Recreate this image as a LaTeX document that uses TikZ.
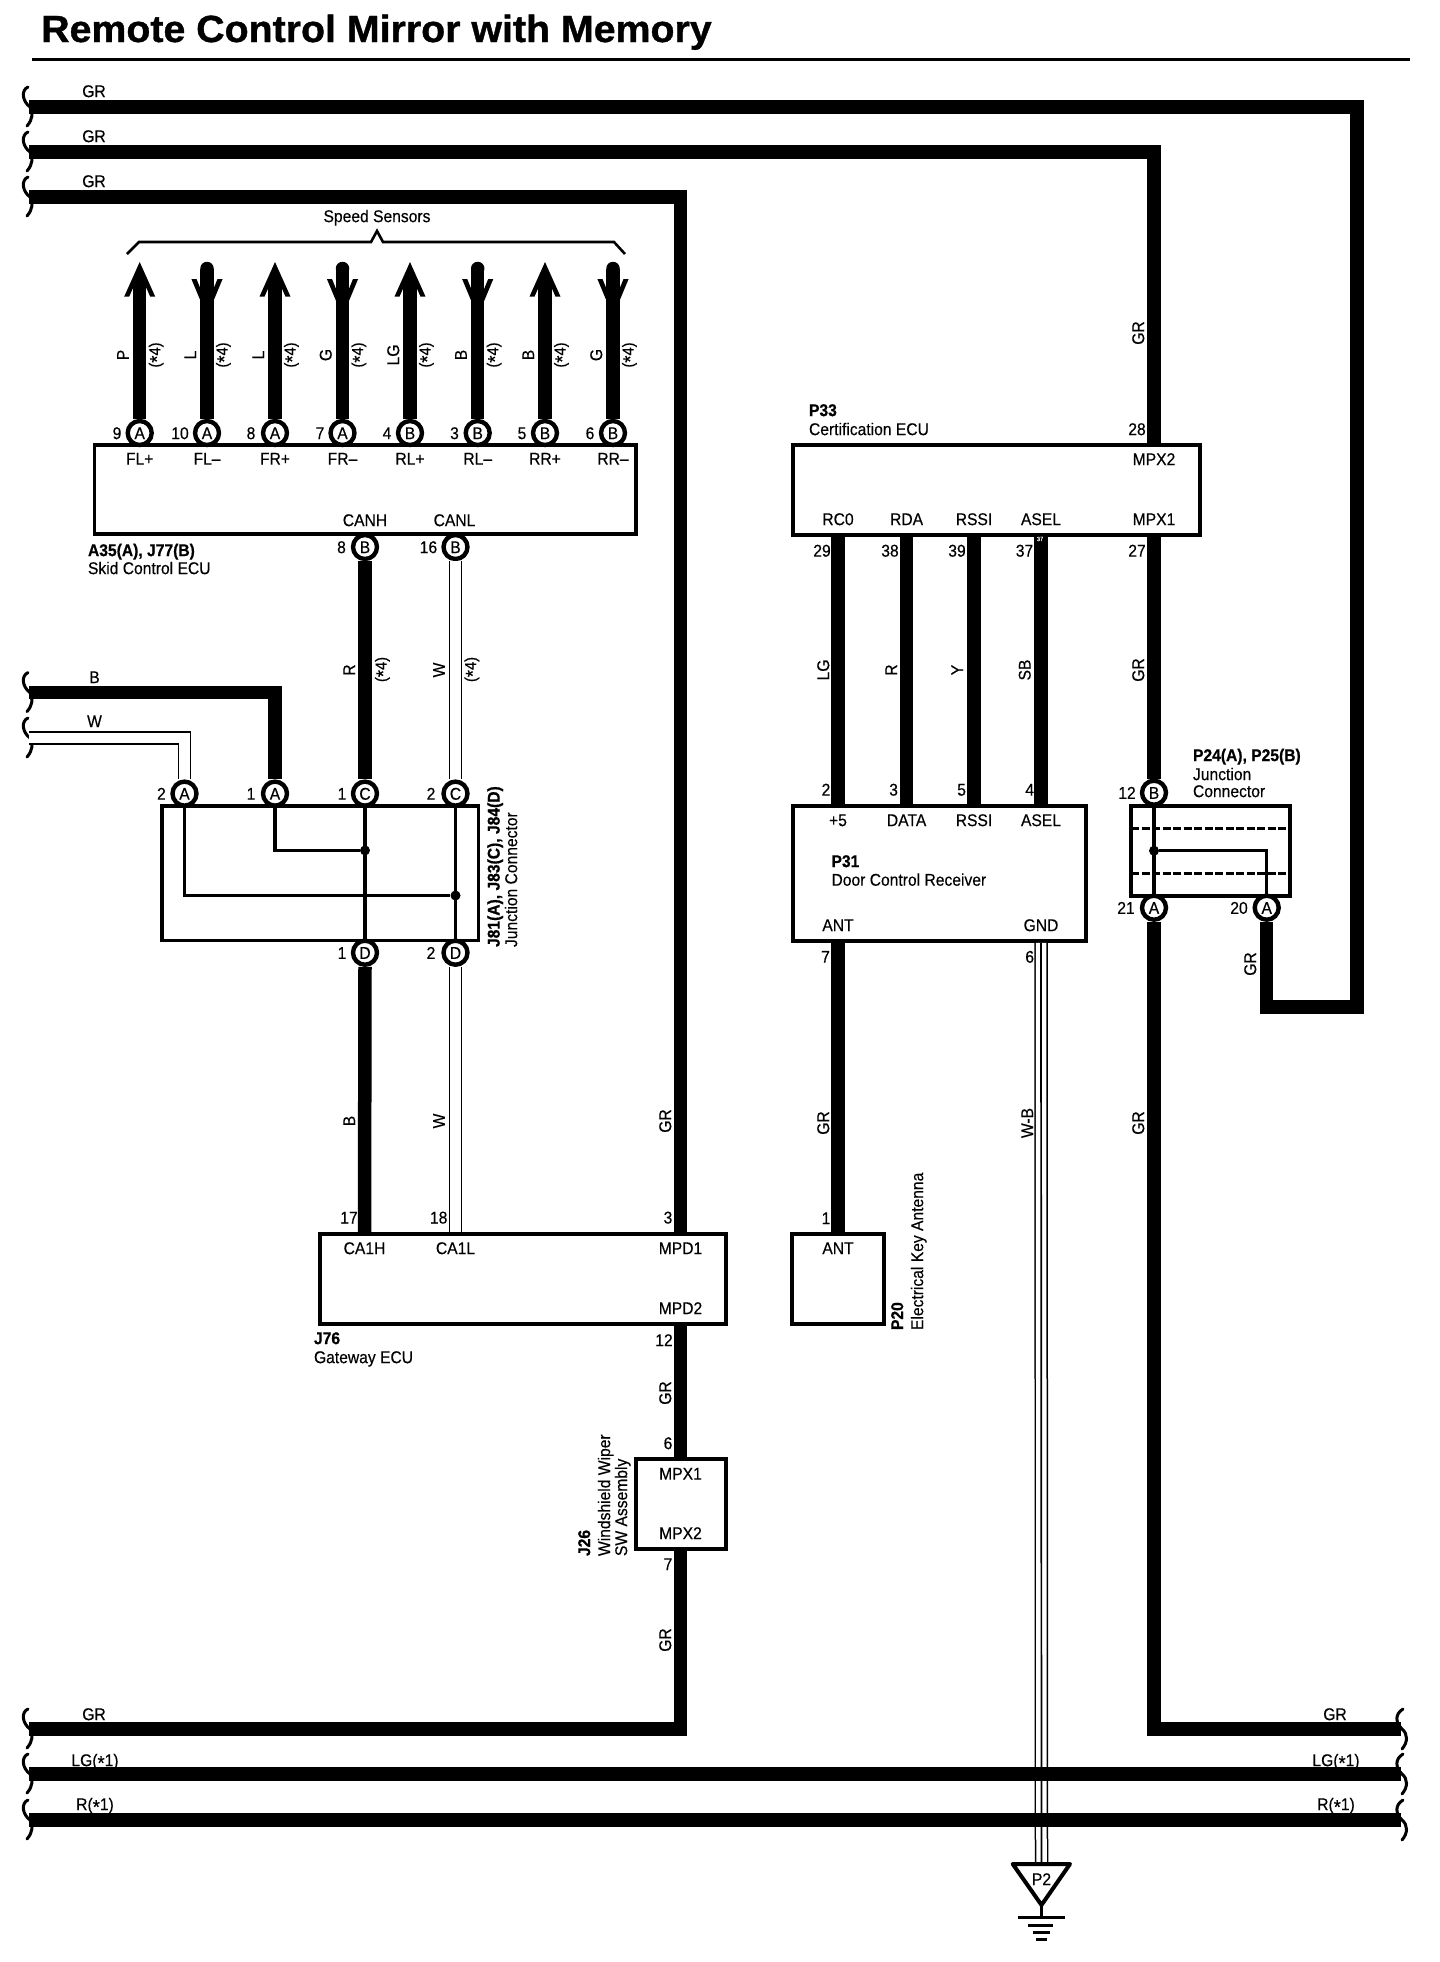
\documentclass[tikz,border=0pt]{standalone}
\usepackage{fontspec}
\setmainfont[FakeStretch=0.92,UprightFeatures={FakeBold=0.35},BoldFeatures={FakeBold=0.7}]{Liberation Sans}
\newfontfamily\ttlfont[FakeStretch=1.04,BoldFeatures={FakeBold=1.0}]{Liberation Sans}
\newcounter{tn}
\newcommand\fs[1]{\fontsize{#1}{#1}\selectfont}
\newcommand\Tx[4][]{\stepcounter{tn}\node[lab,#1] (t\arabic{tn}) at (#2,#3) {#4};}
\newcommand\Vx[4][]{\stepcounter{tn}\node[lab,rotate=90,#1] (t\arabic{tn}) at (#2,#3) {#4};}
\newcommand\Lx[4][]{\stepcounter{tn}\node[lab,anchor=west,#1] (t\arabic{tn}) at (#2,#3) {#4};}
\newcommand\Rx[4][]{\stepcounter{tn}\node[lab,rotate=90,anchor=west,#1] (t\arabic{tn}) at (#2,#3) {#4};}
\newcommand\str{\raisebox{-0.22em}{\fs{20}*}}
\newcommand\mybox[5]{%
  \pgfmathsetmacro\bw{#4-#2}\pgfmathsetmacro\bh{#5-#3}%
  \pgfmathsetmacro\bx{(#4+#2)/2}\pgfmathsetmacro\by{(#5+#3)/2}%
  \node[ecu,minimum width=\bw pt,minimum height=\bh pt] (#1) at (\bx,\by) {};}
\newcommand\brL[1]{\draw[brc] (28,#1-20) .. controls (21,#1-17) and (22,#1-6) .. (30,#1) .. controls (33,#1+6) and (33,#1+12) .. (27,#1+19);}
\newcommand\brR[1]{\draw[brc] (1403,#1-20) .. controls (1395,#1-15) and (1395,#1-7) .. (1402,#1) .. controls (1408,#1+5) and (1408,#1+13) .. (1402,#1+20);}
\tikzset{
  lab/.style={inner sep=0pt,outer sep=0pt,font=\fs{17},text height=12.2pt,text depth=0pt},
  ecu/.style={draw,line width=3.6pt,inner sep=0pt},
  con/.style={circle,draw,fill=white,line width=4.4pt,minimum size=24pt,inner sep=0pt,font=\fs{17},text height=12.2pt,text depth=0pt},
  wire/.style={line width=13.5pt,line join=miter,line cap=butt},
  wwire/.style={line width=1.5pt,double=white,double distance=10.5pt,line join=miter},
  thin wire/.style={line width=3.4pt,line join=miter},
  brc/.style={line width=3pt,line cap=round},
  jdot/.style={circle,fill=black,inner sep=0pt,minimum size=10pt},
}
\begin{document}
\begin{tikzpicture}[x=1pt,y=-1pt]
\useasboundingbox (0,0) rectangle (1440,1962);
% title
\node[inner sep=0pt,anchor=base west,font=\ttlfont\bfseries\fs{37.8}] (title) at (41,42) {Remote Control Mirror with Memory};
\coordinate (rulea) at (32,59); \coordinate (ruleb) at (1410,59);
\draw[line width=3pt] (rulea) -- (ruleb);
% edge coordinates
\coordinate (L1) at (29,107); \coordinate (L2) at (29,152); \coordinate (L3) at (29,197);
\coordinate (L4) at (29,1729); \coordinate (L5) at (29,1774); \coordinate (L6) at (29,1820);
\coordinate (L7) at (29,692.6); \coordinate (L8) at (29,738);
\coordinate (R1) at (1401,1729); \coordinate (R2) at (1401,1774); \coordinate (R3) at (1401,1820);
\coordinate (tr1) at (1357,1007);
\foreach \y in {107,152,197,692.6,738,1729,1774,1820} {\brL{\y}}
\foreach \y in {1729,1774,1820} {\brR{\y}}
% boxes
\mybox{skid}{94.6}{445}{635.7}{534}
\mybox{P33}{793}{445}{1200}{535}
\mybox{jbox}{162}{806}{478.4}{940.5}
\mybox{P31}{793}{806}{1086}{941}
\mybox{P24}{1130.7}{806}{1290}{895.7}
\mybox{J76}{320}{1234}{726}{1324}
\mybox{P20}{792}{1234}{884}{1324}
\mybox{J26}{636}{1459}{726}{1549}
% speed sensor wires
\foreach \i/\x/\d/\cl/\n/\nx/\w/\s in {
 1/139.7/u/A/9/117/P/FL+,
 2/207/d/A/10/180/L/FL–,
 3/275/u/A/8/251/L/FR+,
 4/342.5/d/A/7/320/G/FR–,
 5/410/u/B/4/387/LG/RL+,
 6/477.7/d/B/3/454.5/B/RL–,
 7/545/u/B/5/522/B/RR+,
 8/613/d/B/6/590/G/RR–}{
  \node[con] (S\i) at (\x,433) {\cl};
  \node[lab] (Sn\i) at (\nx,433) {\n};
  \node[lab] (Sp\i) at (\x,458.5) {\s};
  \node[lab,rotate=90] (Sw\i) at (\x-17,355) {\w};
  \node[lab,rotate=90,font=\fs{16}] (Sa\i) at (\x+14.5,355) {(\str4)};
  \if\d u
    \coordinate (Se\i) at (\x,284);
    \draw[wire] (S\i.north) -- (Se\i);
    \fill (\x,262) -- (\x+15.5,296.6) -- (\x+10.5,296.6) -- (\x+6.7,288) -- (\x-6.7,288) -- (\x-10.5,296.6) -- (\x-15.5,296.6) -- cycle;
  \else
    \coordinate (Se\i) at (\x,268.5);
    \draw[wire] (S\i.north) -- (Se\i);
    \fill (\x,268.5) circle (6.75pt);
    \fill (\x-15.6,279) -- (\x-10.5,279) -- (\x-6,290) -- (\x+6,290) -- (\x+10.5,279) -- (\x+15.6,279) -- (\x+6,302) -- (\x-6,302) -- cycle;
  \fi
}
% speed sensors brace
\node[lab] (speed) at (377,216) {Speed Sensors};
\coordinate (bra) at (127,254); \coordinate (brb) at (625,254);
\draw[line width=2.6pt,line join=miter] (bra) -- (139,242) -- (371,242) -- (377,231) -- (383,242) -- (614,242) -- (brb);
% skid texts
\Tx[alias=canh]{365}{520}{CANH}
\Tx[alias=canl]{454.5}{520}{CANL}
\Lx{88}{550}{\bfseries A35(A), J77(B)}
\Lx{88}{568}{Skid Control ECU}
\node[con] (sB1) at (365,547) {B};
\node[con] (sB2) at (455.5,547) {B};
\Tx{341.5}{547}{8}
\Tx{428.5}{547}{16}
% J junction
\node[con] (jA2) at (184.5,793.6) {A};
\node[con] (jA1) at (275,793.6) {A};
\node[con] (jC1) at (365,793.6) {C};
\node[con] (jC2) at (455.5,793.6) {C};
\node[con] (jD1) at (365,952.7) {D};
\node[con] (jD2) at (455.5,952.7) {D};
\Tx{161.4}{793.6}{2}\Tx{251}{793.6}{1}\Tx{342}{793.6}{1}\Tx{431}{793.6}{2}
\Tx{342}{952.7}{1}\Tx{431}{952.7}{2}
\node[jdot] (jdot1) at (365,850.4) {};
\node[jdot] (jdot2) at (455.5,895.5) {};
\draw[thin wire] (jA1.south) |- (jdot1);
\draw[thin wire] (jA2.south) |- (jdot2);
\draw[thin wire] (jC1.south) -- (jD1.north);
\draw[thin wire] (jC2.south) -- (jD2.north);
\Rx{493.5}{947}{\bfseries J81(A), J83(C), J84(D)}
\Rx{511}{947}{Junction Connector}
% wires left
\draw[wire] (sB1.south) -- (jC1.north);
\draw[wwire] (sB2.south) -- (jC2.north);
\draw[wire] (L7) -| (jA1.north);
\draw[wwire] (L8) -| (jA2.north);
\Tx{94.5}{677}{B}\Tx{94.5}{721}{W}
\Vx{349}{670}{R}\Vx{380.5}{669.5}{\fs{16}(\str4)}
\Vx{438.7}{670}{W}\Vx{470}{669.5}{\fs{16}(\str4)}
% J76
\Tx[alias=ca1h]{364.5}{1248}{CA1H}
\Tx[alias=ca1l]{455.5}{1248}{CA1L}
\Tx[alias=mpd1]{680.5}{1248}{MPD1}
\Tx[alias=mpd2]{680.5}{1308}{MPD2}
\draw[wire] (jD1.south) -- (ca1h |- J76.north);
\draw[wwire] (jD2.south) -- (ca1l |- J76.north);
\Tx{349}{1217.4}{17}\Tx{438.7}{1217.4}{18}\Tx{668}{1217.4}{3}
\Vx{349}{1121}{B}\Vx{438.7}{1121}{W}\Vx{665}{1121}{GR}
\Lx{314}{1338}{\bfseries J76}
\Lx{314}{1357}{Gateway ECU}
% J26
\Tx[alias=mpxa]{680.5}{1473.5}{MPX1}
\Tx[alias=mpxb]{680.5}{1533}{MPX2}
\Tx{664}{1340}{12}\Vx{665}{1393}{GR}\Tx{668}{1443}{6}\Tx{668}{1564}{7}\Vx{665}{1640}{GR}
\Rx{584}{1556}{\bfseries J26}
\Rx{604}{1556}{Windshield Wiper}
\Rx{621}{1556}{SW Assembly}
% P33
\Lx{809}{410}{\bfseries P33}
\Lx{809}{429}{Certification ECU}
\Tx[alias=rc0]{838}{519}{RC0}
\Tx[alias=rda]{906.6}{519}{RDA}
\Tx[alias=rssi]{974}{519}{RSSI}
\Tx[alias=asel]{1041}{519}{ASEL}
\Tx[alias=mpx1]{1154}{519}{MPX1}
\Tx[alias=mpx2]{1154}{459}{MPX2}
\Tx{1137}{429}{28}
\Tx{822}{550.5}{29}\Tx{890}{550.5}{38}\Tx{957}{550.5}{39}\Tx{1024.5}{550.5}{37}\Tx{1137}{550.5}{27}
\Vx{823}{670}{LG}\Vx{891}{670}{R}\Vx{957}{670}{Y}\Vx{1024.5}{670}{SB}\Vx{1138}{670}{GR}
\Vx{1138}{333}{GR}
% P31
\Tx[alias=pplus]{838}{820}{+5}
\Tx[alias=pdata]{906.6}{820}{DATA}
\Tx[alias=prssi]{974}{820}{RSSI}
\Tx[alias=pasel]{1041}{820}{ASEL}
\Tx[alias=pant]{838}{925}{ANT}
\Tx[alias=pgnd]{1041}{925}{GND}
\Lx{831.5}{861}{\bfseries P31}
\Lx{831.5}{879.6}{Door Control Receiver}
\Tx{826}{789.5}{2}\Tx{893.6}{789.5}{3}\Tx{961.6}{789.5}{5}\Tx{1029.7}{789.5}{4}
\Tx{825.5}{956.6}{7}\Tx{1029.7}{956.6}{6}
\draw[wire] (rc0 |- P33.south) -- (pplus |- P31.north);
\draw[wire] (rda |- P33.south) -- (pdata |- P31.north);
\draw[wire] (rssi |- P33.south) -- (prssi |- P31.north);
\draw[wire] (asel |- P33.south) -- (pasel |- P31.north);
\node[inner sep=0pt,text=white,font=\fs{6}] (tiny37) at (1040,539) {37};
% P20
\Tx[alias=aant]{838}{1248}{ANT}
\Tx{826}{1218}{1}
\draw[wire] (pant |- P31.south) -- (aant |- P20.north);
\Vx{823}{1123}{GR}
\Rx{897}{1330}{\bfseries P20}
\Rx{917}{1330}{Electrical Key Antenna}
% ground
\coordinate (gnd) at (1041.5,1864);
\node[lab] (p2) at (1041.5,1879) {P2};
\draw[wwire] (pgnd |- P31.south) -- (gnd);
\draw[line width=1.7pt] (pgnd |- P31.south) -- (gnd);
\Vx{1027}{1123}{W-B}
\coordinate (gapex) at (1041.5,1905);
\draw[line width=4pt,line join=round] (1012.7,1864) -- (1070,1864) -- (gapex) -- cycle;
\coordinate (gstem) at (1041.5,1917);
\draw[line width=3pt] (gapex) -- (gstem);
\draw[line width=3pt] (1017.7,1917) -- (1065,1917);
\draw[line width=3pt] (1028,1925) -- (1053,1925);
\draw[line width=3pt] (1032.7,1932.7) -- (1050,1932.7);
\draw[line width=3pt] (1036,1939) -- (1047,1939);
% P24
\node[con] (pB) at (1154,792.7) {B};
\node[con] (pA1) at (1154,907.7) {A};
\node[con] (pA2) at (1266.7,907.7) {A};
\Tx{1127}{792.7}{12}\Tx{1126}{907.7}{21}\Tx{1239}{907.7}{20}
\Lx{1193}{755}{\bfseries P24(A), P25(B)}
\Lx{1193}{774}{Junction}
\Lx{1193}{791}{Connector}
\coordinate (da1) at (1131,828); \coordinate (da2) at (1290,828);
\coordinate (db1) at (1131,873); \coordinate (db2) at (1290,873);
\draw[line width=3pt,dash pattern=on 8pt off 2.5pt] (da1) -- (da2);
\draw[line width=3pt,dash pattern=on 8pt off 2.5pt] (db1) -- (db2);
\node[jdot] (pdot) at (1154,850.7) {};
\draw[thin wire] (pB.south) -- (pA1.north);
\draw[thin wire] (pdot) -| (pA2.north);
\Vx{1250}{964}{GR}
\Vx{1138}{1123}{GR}
% main GR wires
\draw[wire] (L1) -| (tr1) -| (pA2.south);
\draw[wire] (L2) -| (mpx2 |- P33.north);
\draw[wire] (mpx1 |- P33.south) -- (pB.north);
\draw[wire] (pA1.south) |- (R1);
\draw[wire] (L3) -| (mpd1 |- J76.north);
\draw[wire] (mpd2 |- J76.south) -- (mpxa |- J26.north);
\draw[wire] (mpxb |- J26.south) |- (L4);
\draw[wire] (L5) -- (R2);
\draw[wire] (L6) -- (R3);
\Tx{94}{91}{GR}\Tx{94}{136}{GR}\Tx{94}{181}{GR}
\Tx{94}{1714}{GR}\Tx{95}{1760}{LG(\str1)}\Tx{95}{1804}{R(\str1)}
\Tx{1335}{1714}{GR}\Tx{1336}{1760}{LG(\str1)}\Tx{1336}{1804}{R(\str1)}
\end{tikzpicture}
\end{document}
